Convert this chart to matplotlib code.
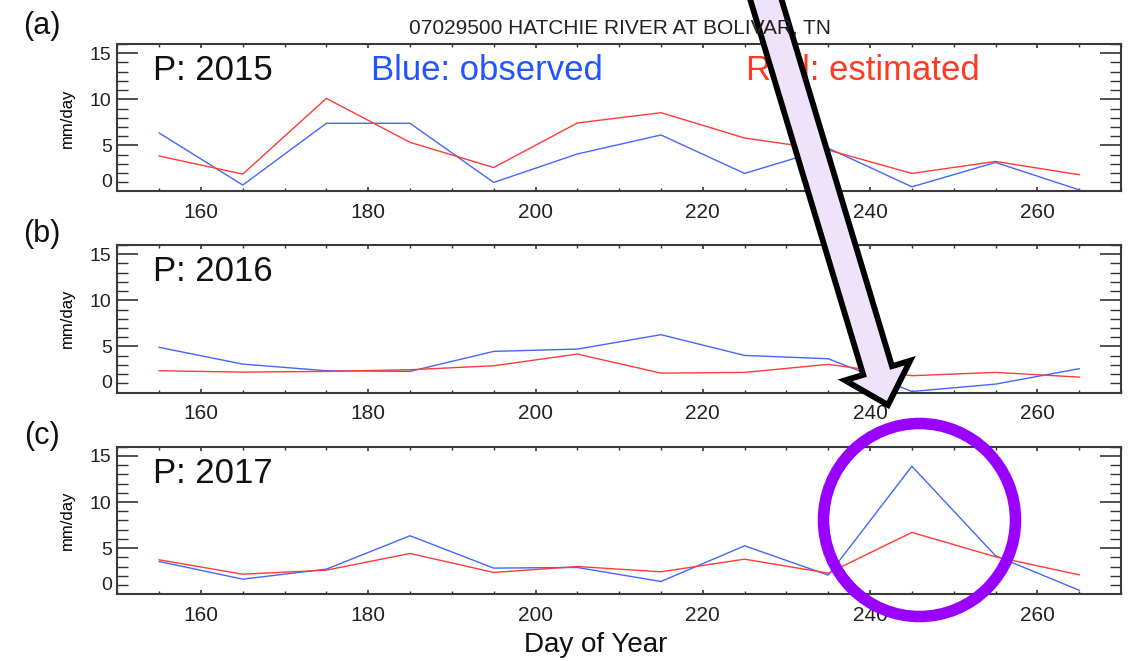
import matplotlib
matplotlib.use('Agg')
import matplotlib.pyplot as plt
from matplotlib.patches import FancyArrow, Ellipse
from matplotlib.transforms import IdentityTransform
from matplotlib.ticker import MultipleLocator

plt.rcParams['font.family'] = ['Liberation Sans', 'DejaVu Sans']

# day of year (10-day steps)
days = [155, 165, 175, 185, 195, 205, 215, 225, 235, 245, 255, 265]

# mm/day
obs_2015 = [6.35, 0.7, 7.4, 7.4, 0.98, 4.07, 6.13, 1.96, 4.7, 0.51, 3.15, 0.18]
est_2015 = [3.85, 1.89, 10.1, 5.33, 2.6, 7.43, 8.55, 5.8, 4.5, 1.96, 3.26, 1.82]
obs_2016 = [4.9, 3.08, 2.36, 2.29, 4.46, 4.71, 6.27, 4.02, 3.66, 0.11, 0.91, 2.58]
est_2016 = [2.36, 2.21, 2.29, 2.47, 2.9, 4.17, 2.1, 2.18, 3.05, 1.82, 2.18, 1.67]
obs_2017 = [3.55, 1.63, 2.72, 6.34, 2.83, 2.9, 1.38, 5.25, 2.07, 13.88, 4.17, 0.43]
est_2017 = [3.73, 2.17, 2.61, 4.42, 2.36, 3.0, 2.43, 3.8, 2.28, 6.7, 4.06, 2.1]

years = ['2015', '2016', '2017']
panel_tags = ['(a)', '(b)', '(c)']
observed = [obs_2015, obs_2016, obs_2017]
estimated = [est_2015, est_2016, est_2017]

W, H = 1135, 661
blue = '#4466ff'
red = '#ff3b36'


def fx(x):
    return x / W


def fy(y):
    return 1 - y / H


fig = plt.figure(figsize=(W / 100, H / 100), dpi=100)

ax_left, ax_right = 117.3, 1121
ax_h = 147.5
tops = [44, 245, 446.7]
tag_y = [26, 234, 436]

for i in range(3):
    top = tops[i]
    ax = fig.add_axes([fx(ax_left), fy(top + ax_h), (ax_right - ax_left) / W, ax_h / H])
    ax.plot(days, observed[i], color=blue, lw=1.0)
    ax.plot(days, estimated[i], color=red, lw=1.0)
    ax.set_xlim(150, 270)
    ax.set_ylim(0, 16)
    ax.set_yticks([0, 5, 10, 15])
    ax.set_xticks([160, 180, 200, 220, 240, 260])
    ax.xaxis.set_minor_locator(MultipleLocator(5))
    ax.yaxis.set_minor_locator(MultipleLocator(1))
    ax.tick_params(axis='both', which='both', direction='in', top=True, right=True,
                   colors='#333333', labelcolor='#222222')
    ax.tick_params(axis='y', which='major', length=15, width=1.2, pad=4, labelsize=14)
    ax.tick_params(axis='y', which='minor', length=8, width=1.0)
    ax.tick_params(axis='x', which='major', length=3, width=1.2, pad=8.5, labelsize=15)
    ax.tick_params(axis='x', which='minor', length=2, width=1.0)
    ax.yaxis.get_major_ticks()[0].label1.set_verticalalignment('bottom')
    for s in ax.spines.values():
        s.set_color('#3a3a3a')
        s.set_linewidth(1.5)
    ax.set_ylabel('mm/day', fontsize=12, labelpad=11)
    ax.text(0.0356, 0.753, 'P: ' + years[i], transform=ax.transAxes, fontsize=25,
            va='baseline', ha='left', color='#111111')
    fig.text(fx(42), fy(tag_y[i]), panel_tags[i], fontsize=22, ha='center', va='center',
             color='#111111')
    if i == 0:
        ax.text(0.2528, 0.753, 'Blue: observed', transform=ax.transAxes, fontsize=25,
                va='baseline', ha='left', color='#2255ff')
        ax.text(0.626, 0.753, 'Red: estimated', transform=ax.transAxes, fontsize=25,
                va='baseline', ha='left', color='#ff3a22')

fig.text(fx(595.5), fy(652), 'Day of Year', fontsize=20, ha='center', va='baseline',
         color='#111111')
fig.text(fx(619.6), fy(33.3), '07029500 HATCHIE RIVER AT BOLIVAR, TN', fontsize=15,
         ha='center', va='baseline', color='#222222')

# annotation: arrow and circle (pixel coordinates, y measured from bottom)
x0, y0 = 760, H + 20
x1, y1 = 888, H - 405
arrow = FancyArrow(x0, y0, x1 - x0, y1 - y0, width=30, head_width=68, head_length=36,
                   length_includes_head=True, facecolor='#efe3fb', edgecolor='black',
                   linewidth=4.2, joinstyle='miter', transform=IdentityTransform())
fig.patches.append(arrow)

ring = Ellipse((919.5, H - 520), 192, 193, fill=False, edgecolor='#9a00ff', linewidth=8.3,
               transform=IdentityTransform())
fig.patches.append(ring)

fig.savefig('out.png', dpi=100)
